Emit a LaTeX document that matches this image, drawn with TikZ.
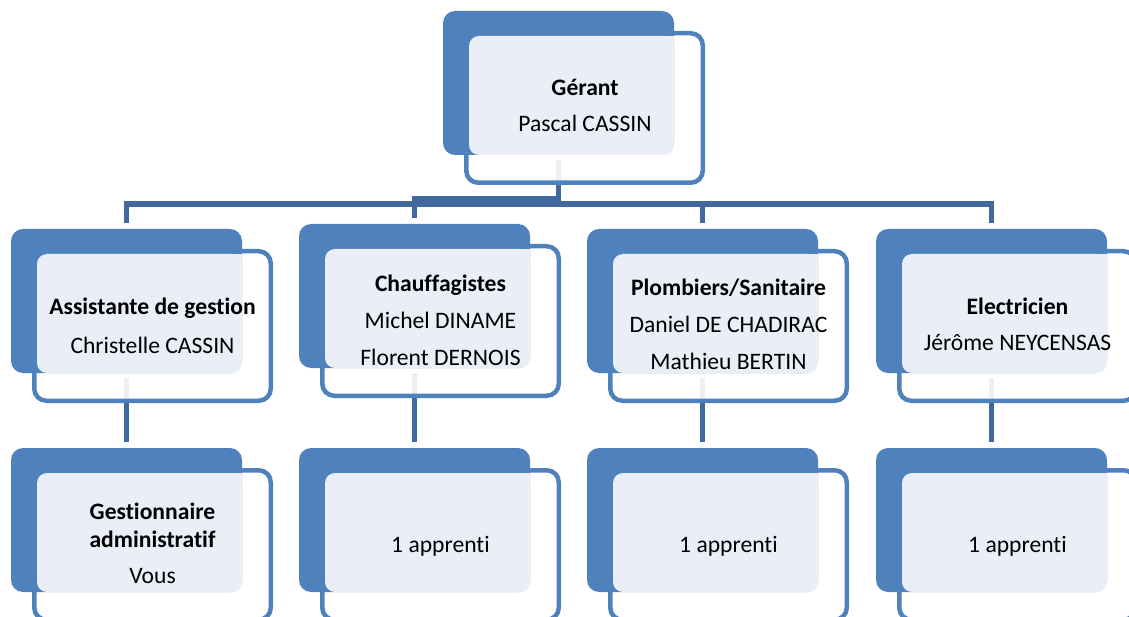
\documentclass[tikz,border=0pt]{standalone}
\usepackage{fontspec}
\setmainfont{Carlito}[Ligatures={NoCommon}]
\usetikzlibrary{backgrounds}
\definecolor{darkc}{HTML}{4F81BD}
\definecolor{lightc}{HTML}{EAEFF7}
\definecolor{linec}{HTML}{41699B}
\tikzset{
  darkbox/.style={fill=darkc, draw=none, rounded corners=12pt, minimum width=231pt, minimum height=144pt, inner sep=0pt},
  outbox/.style={draw=darkc, line width=4.5pt, fill=white, fill opacity=0.9, rounded corners=12pt, minimum width=236.5pt, minimum height=149.5pt, inner sep=0pt},
  lightbox/.style={fill=lightc, draw=none, rounded corners=10pt, minimum width=205pt, minimum height=119pt, inner sep=0pt},
  conn/.style={draw=linec, line width=5.5pt},
  txt/.style={inner sep=0pt, anchor=base, text=black, font=\fontsize{23.6}{28}\selectfont},
  btxt/.style={txt, font=\fontsize{23.6}{28}\selectfont\bfseries},
}
\newcommand\orgbox[3]{%
  \node[outbox] (#1O) at ({#2+141.5},{#3+97}) {};
  \node[darkbox] (#1D) at ({#2+115.5},{#3+72}) {};
  \node[lightbox] (#1L) at ({#2+128.5},{#3+84.5}) {};
  \fill[lightc] ({#2+211},{#3+25}) rectangle ({#2+231},{#3+45});
}
\begin{document}
\begin{tikzpicture}[x=1pt,y=-1pt]
\useasboundingbox (0,0) rectangle (1129,617);
% boxes
\orgbox{g}{443}{11}
\orgbox{a}{11}{229}
\orgbox{c}{299}{224}
\orgbox{p}{587}{229}
\orgbox{e}{876}{229}
\orgbox{aa}{11}{448}
\orgbox{cc}{299}{448}
\orgbox{pp}{587}{448}
\orgbox{ee}{876}{448}
% connectors
\coordinate (busU) at (0,199);
\coordinate (busM) at (0,204);
\begin{scope}[on background layer]
  \draw[conn] ([yshift=-5pt]gD.south) -- (gD.south |- busU) -| ([yshift=6pt]cD.north);
  \draw[conn] ([yshift=-5pt]gD.south) -- (gD.south |- busM) -| ([yshift=6pt]aD.north);
  \draw[conn] ([yshift=-5pt]gD.south) -- (gD.south |- busM) -| ([yshift=6pt]pD.north);
  \draw[conn] ([yshift=-5pt]gD.south) -- (gD.south |- busM) -| ([yshift=6pt]eD.north);
  \draw[conn] ([yshift=-5pt]aD.south) -- ([yshift=6pt]aaD.north);
  \draw[conn] ([yshift=-5pt]cD.south) -- ([yshift=6pt]ccD.north);
  \draw[conn] ([yshift=-5pt]pD.south) -- ([yshift=6pt]ppD.north);
  \draw[conn] ([yshift=-5pt]eD.south) -- ([yshift=6pt]eeD.north);
\end{scope}
% texts
\node[btxt] (gt1) at (585,96) {Gérant};
\node[txt] (gt2) at (585,132) {Pascal CASSIN};
\node[btxt] (at1) at (152.5,315) {Assistante de gestion};
\node[txt] (at2) at (152.5,353) {Christelle CASSIN};
\node[btxt] (ct1) at (440.5,292) {Chauffagistes};
\node[txt] (ct2) at (440.5,328) {Michel DINAME};
\node[txt] (ct3) at (440.5,365) {Florent DERNOIS};
\node[btxt] (pt1) at (728.5,296) {Plombiers/Sanitaire};
\node[txt] (pt2) at (728.5,333) {Daniel DE CHADIRAC};
\node[txt] (pt3) at (728.5,370) {Mathieu BERTIN};
\node[btxt] (et1) at (1017.5,315) {Electricien};
\node[txt] (et2) at (1017.5,351) {Jérôme NEYCENSAS};
\node[btxt] (aat1) at (152.5,519) {Gestionnaire};
\node[btxt] (aat2) at (152.5,547) {administratif};
\node[txt] (aat3) at (152.5,583) {Vous};
\node[txt] (cct1) at (440.5,552) {1 apprenti};
\node[txt] (ppt1) at (728.5,552) {1 apprenti};
\node[txt] (eet1) at (1017.5,552) {1 apprenti};
\end{tikzpicture}
\end{document}
